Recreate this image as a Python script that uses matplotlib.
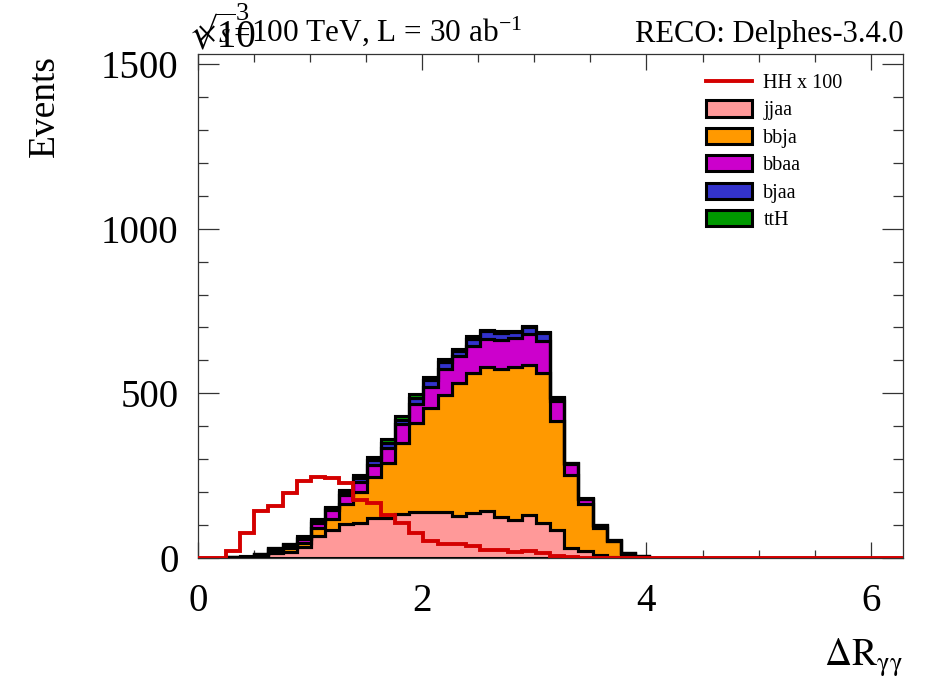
import numpy as np
import matplotlib
matplotlib.use("Agg")
import matplotlib.pyplot as plt
from matplotlib.patches import Patch
from matplotlib.lines import Line2D

plt.rcParams['font.family'] = ['Liberation Serif', 'DejaVu Serif']
plt.rcParams['mathtext.fontset'] = 'stix'

# ---- data (events, x10^3), 50 bins over [0, 2*pi] ----
n_bins = 50
x_min, x_max = 0.0, 2 * np.pi

jjaa = [0, 0, 1, 1.5, 5, 15, 17, 32, 68, 85,
        102, 106, 120, 120, 133, 141, 139, 139, 128, 136,
        142, 124, 116, 132, 107, 85, 30, 20, 9, 4,
        2, 1, 0, 0, 0, 0, 0, 0, 0, 0,
        0, 0, 0, 0, 0, 0, 0, 0, 0, 0]
bbja = [0, 0, 1, 1.5, 4, 8, 14, 15, 22, 32,
        63, 95, 126, 167, 217, 268, 315, 357, 402, 427,
        438, 449, 463, 453, 456, 331, 222, 145, 83, 47,
        11, 3, 0, 0, 0, 0, 0, 0, 0, 0,
        0, 0, 0, 0, 0, 0, 0, 0, 0, 0]
bbaa = [0, 0, 0.5, 1, 2, 4, 7, 11, 16, 28,
        27, 29, 37, 47, 56, 60, 65, 78, 82, 81,
        85, 90, 89, 96, 95, 60, 32, 13, 5, 2,
        1, 1, 0, 0, 0, 0, 0, 0, 0, 0,
        0, 0, 0, 0, 0, 0, 0, 0, 0, 0]
bjaa = [0, 0, 0.5, 0.5, 1.5, 2, 3, 4, 6, 6,
        8, 12, 14, 15, 14, 16, 21, 20, 18, 22,
        23, 21, 18, 19, 24, 10, 3, 2, 2, 1,
        1, 0.5, 0, 0, 0, 0, 0, 0, 0, 0,
        0, 0, 0, 0, 0, 0, 0, 0, 0, 0]
ttH = [0, 0, 0.3, 0.3, 1, 1, 2, 5, 5, 5,
       8, 10, 11, 13, 12, 12, 11, 10, 6, 8,
       5, 4, 4, 5, 5, 4, 2, 1, 1, 1,
       1, 0.5, 0, 0, 0, 0, 0, 0, 0, 0,
       0, 0, 0, 0, 0, 0, 0, 0, 0, 0]
hh_x100 = [0, 0, 22, 75, 143, 159, 196, 234, 245, 243,
           227, 176, 166, 131, 107, 75, 51, 41, 44, 35,
           25, 24, 17, 21, 16, 5, 3, 1.5, 1, 0.5,
           0.3, 0, 0, 0, 0, 0, 0, 0, 0, 0,
           0, 0, 0, 0, 0, 0, 0, 0, 0, 0]

labels = ["jjaa", "bbja", "bbaa", "bjaa", "ttH"]
colors = ["#ff9999", "#ff9900", "#cc00cc", "#3333cc", "#009900"]
hh_label = "HH x 100"
hh_color = "#d40000"

edges = np.linspace(x_min, x_max, n_bins + 1)

fig = plt.figure(figsize=(9.3, 6.84), dpi=100)
ax = fig.add_axes([198 / 930, 1 - 558 / 684, (902.5 - 198) / 930, (558 - 53.5) / 684])

base = np.zeros(n_bins)
for vals, col in zip([jjaa, bbja, bbaa, bjaa, ttH], colors):
    top = base + np.asarray(vals, dtype=float)
    ax.stairs(top, edges, baseline=base.copy(), fill=True, facecolor=col,
              edgecolor='black', linewidth=2.2, zorder=2)
    ax.stairs(top, edges, baseline=None, color='black', linewidth=2.2, zorder=3)
    base = top

ax.stairs(np.asarray(hh_x100, float), edges, baseline=None, color=hh_color,
          linewidth=2.8, zorder=4)

ax.set_xlim(x_min, x_max)
ax.set_ylim(0, 1532)

ax.set_xticks([0, 2, 4, 6])
ax.set_xticks(np.arange(0, 6.3, 0.5), minor=True)
ax.set_yticks([0, 500, 1000, 1500])
ax.set_yticks(np.arange(0, 1532, 100), minor=True)

ax.tick_params(axis='both', which='both', direction='in', top=True, right=True,
               width=0.9, colors='#333333', labelcolor='black', labelsize=28)
ax.tick_params(axis='x', which='major', length=11.5, pad=18)
ax.tick_params(axis='x', which='minor', length=5.5)
ax.tick_params(axis='y', which='major', length=15, pad=14)
ax.tick_params(axis='y', which='minor', length=7.5)
for sp in ax.spines.values():
    sp.set_linewidth(0.9)
    sp.set_color('#333333')

# axis titles
fig.text(45 / 930, 1 - 55 / 684, "Events", rotation=90, ha='center', va='top', fontsize=27)
fig.text(903 / 930, 1 - 666 / 684, r"$\Delta\mathrm{R}_{\mathrm{γγ}}$", ha='right',
         va='baseline', fontsize=27)

# header texts
fig.text(251 / 930, 1 - 42 / 684, r"$\sqrt{s}$=", ha='right', va='baseline', fontsize=21)
fig.text(251 / 930, 1 - 42 / 684, r"100 TeV, L = 30 ab$^{\mathregular{-1}}$", ha='left',
         va='baseline', fontsize=22.5)
fig.text(903 / 930, 1 - 42 / 684, "RECO: Delphes-3.4.0", ha='right', va='baseline',
         fontsize=22)
fig.text(196 / 930, 1 - 47 / 684, "×10", ha='left', va='baseline', fontsize=28)
fig.text(236 / 930, 1 - 20 / 684, "3", ha='left', va='baseline', fontsize=19)

handles = [Line2D([], [], color=hh_color, linewidth=2.8)]
handles += [Patch(facecolor=c, edgecolor='black', linewidth=2.2) for c in colors]
leg = fig.legend(handles, [hh_label] + labels, loc='upper left',
                 bbox_to_anchor=(706 / 930, 1 - 73 / 684), frameon=False,
                 fontsize=14.5, handlelength=2.3, handleheight=0.85,
                 handletextpad=0.55, labelspacing=0.37, borderpad=0, borderaxespad=0)

fig.savefig("out.png", dpi=100)
